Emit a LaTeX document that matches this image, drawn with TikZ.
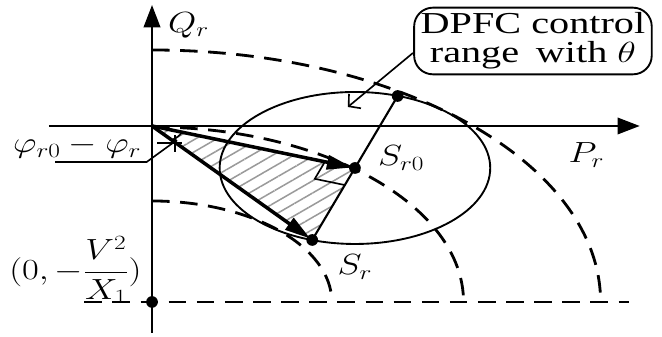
\documentclass[tikz,border=0pt]{standalone}
\usepackage{amsmath}
\usepackage{fontspec}
\setmainfont{Liberation Serif}
\usepackage{tikz}
\usetikzlibrary{arrows.meta,calc,patterns.meta}
\definecolor{trazo}{HTML}{000000}
\definecolor{rayas}{HTML}{9A9A9A}
\tikzset{
  eje/.style={draw=trazo,line width=2.1pt,-{Triangle[length=19pt,width=14pt]}},
  limite/.style={draw=trazo,line width=2.4pt,dash pattern=on 15pt off 9pt},
  circulo/.style={draw=trazo,line width=1.6pt},
  vector/.style={draw=trazo,line width=3pt,-{Triangle[length=22pt,width=12pt]},shorten >=2pt},
  radio/.style={draw=trazo,line width=1.8pt},
  guia/.style={draw=trazo,line width=1.4pt},
  punto/.style={circle,fill=trazo,inner sep=0pt,minimum size=10pt},
  rotulo/.style={font=\fontsize{26}{28}\selectfont,inner sep=1pt,xscale=1.25,transform shape},
  caja/.style={rounded corners=16pt,draw=trazo,line width=1.6pt,align=center,font=\fontsize{26}{25}\selectfont,inner sep=2pt,minimum width=5.4cm,minimum height=2cm,xscale=1.32,transform shape},
  rayado/.style={pattern={Lines[angle=30,distance=9pt,line width=1.3pt]},pattern color=rayas},
}
\begin{document}
\begin{tikzpicture}[x=0.0534cm,y=0.03cm]
\useasboundingbox (-85.4,-211) rectangle (286.5,126);
\coordinate (O) at (0,0);
\coordinate (B) at (0,-176);
\coordinate (Sr0) at (114,-42);
\coordinate (Sr) at (90,-114);
\coordinate (T) at (138,30);
\coordinate (tip) at (110,19);
% zona rayada
\fill[rayado] (O) -- (Sr0) -- (Sr) -- cycle;
% arcos de limite
\draw[limite] (-38,-176) -- (268,-176);
\draw[limite] (B) ++(0,101) arc[start angle=90,end angle=0,radius=101];
\draw[limite] (B) ++(0,175) arc[start angle=90,end angle=0,radius=175];
\draw[limite] (B) ++(0,252) arc[start angle=90,end angle=0,radius=252];
% ejes
\draw[eje] (0,-207) -- (0,121);
\draw[eje] (-58,0) -- (274,0);
\draw[circulo] (Sr0) circle[radius=76];
\draw[radio] (Sr) -- (T);
\draw[vector] (O) -- (Sr0);
\draw[vector] (O) -- (Sr);
% angulo recto
\coordinate (m1) at ($(Sr0)!0.148!(O)$);
\coordinate (m2) at ($(Sr0)!0.237!(Sr)$);
\draw[guia] (m1) -- ($(m1)+(m2)-(Sr0)$) -- (m2);
% angulo entre vectores
\draw[guia] (O) ++(-20.2:18) arc[start angle=-20.2,end angle=-51.7,radius=18];
\draw[guia] (3,-17) -- (17,-17) (13,-9) -- (13,-26);
\draw[guia] (-54.5,-36) -- (-3,-36) -- (14,-14);
\node[punto] at (B) {};
\node[punto] at (Sr0) {};
\node[punto] at (Sr) {};
\node[punto] at (T) {};
\node[rotulo,anchor=west] (qr) at (8,101) {$Q_r$};
\node[rotulo] (pr) at (244,-29) {$P_r$};
\node[rotulo] (sr0) at (140,-32) {$S_{r0}$};
\node[rotulo] (sr) at (114,-141) {$S_r$};
\node[rotulo] (fase) at (-42,-21) {$\varphi_{r0}-\varphi_r$};
\node[rotulo] (base) at (-43,-144) {$(0,-\dfrac{V^2}{X_1})$};
\node[caja] (caja) at (214,85) {DPFC control\\range\, with $\theta$};
\draw[guia,-{Straight Barb[length=7pt,width=16pt]}] ($(caja.west)+(0,-12)$) -- (tip);
\end{tikzpicture}
\end{document}
